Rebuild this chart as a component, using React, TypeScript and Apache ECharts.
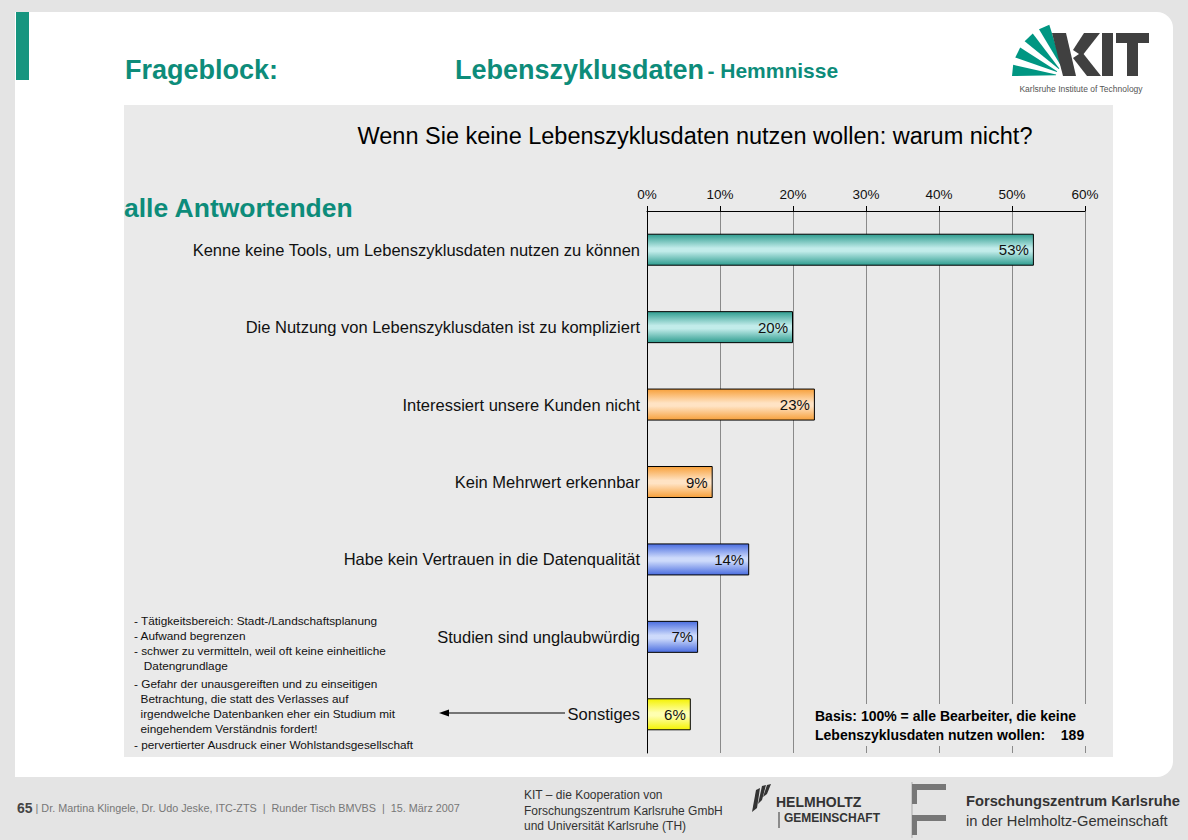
import React, { useEffect, useRef } from "react";
import * as echarts from "echarts";

const categories = [
  "Kenne keine Tools, um Lebenszyklusdaten nutzen zu können",
  "Die Nutzung von Lebenszyklusdaten ist zu kompliziert",
  "Interessiert unsere Kunden nicht",
  "Kein Mehrwert erkennbar",
  "Habe kein Vertrauen in die Datenqualität",
  "Studien sind unglaubwürdig",
  "Sonstiges",
];
const values = [53, 20, 23, 9, 14, 7, 6];
const colorGroups = ["teal", "teal", "orange", "orange", "blue", "blue", "yellow"];
const axisTicks = [0, 10, 20, 30, 40, 50, 60];

const noteLines = [
  "- Tätigkeitsbereich: Stadt-/Landschaftsplanung",
  "- Aufwand begrenzen",
  "- schwer zu vermitteln, weil oft keine einheitliche",
  "   Datengrundlage",
  "- Gefahr der unausgereiften und zu einseitigen",
  "  Betrachtung, die statt des Verlasses auf",
  "  irgendwelche Datenbanken eher ein Studium mit",
  "  eingehendem Verständnis fordert!",
  "- pervertierter Ausdruck einer Wohlstandsgesellschaft",
];
const noteY = [621, 636, 651, 666, 684, 699, 714, 729, 745];

const palette: Record<string, [string, string]> = {
  teal: ["#2f9d90", "#c2ecea"],
  orange: ["#f7a03a", "#ffe3c4"],
  blue: ["#4a6de0", "#cddafb"],
  yellow: ["#f4f200", "#ffffb0"],
};

const FONT = "'Liberation Sans', Arial, Helvetica, sans-serif";
const GREEN = "#0d8c7a";

function grad(key: string) {
  const [e, m] = palette[key];
  return new echarts.graphic.LinearGradient(0, 0, 0, 1, [
    { offset: 0, color: e },
    { offset: 0.45, color: m },
    { offset: 0.55, color: m },
    { offset: 1, color: e },
  ]);
}

function kitRays() {
  const fx = 1066;
  const fy = 76;
  const angles = [6, 26, 46, 66];
  const r1 = 10;
  const r2 = 54;
  return angles.map((a) => {
    const pt = (r: number, deg: number) => {
      const t = (deg * Math.PI) / 180;
      return [fx - r * Math.cos(t), fy - r * Math.sin(t)];
    };
    return {
      type: "polygon",
      z: 20,
      shape: { points: [pt(r1, a - 2), pt(r2, a - 6), pt(r2, a + 6), pt(r1, a + 2)] },
      style: { fill: "#009682" },
    };
  });
}

export default function App() {
  const ref = useRef<HTMLDivElement>(null);
  useEffect(() => {
    if (!ref.current) return;
    const chart = echarts.init(ref.current, undefined, { renderer: "svg" });
    const graphic: any[] = [
      { type: "rect", z: -20, shape: { x: 0, y: 0, width: 1188, height: 840 }, style: { fill: "#e4e4e4" } },
      { type: "rect", z: -19, shape: { x: 15, y: 12, width: 1158, height: 765, r: [0, 16, 16, 0] }, style: { fill: "#ffffff" } },
      { type: "rect", z: -18, shape: { x: 16, y: 12, width: 13, height: 68 }, style: { fill: "#16957f" } },
      { type: "rect", z: -18, shape: { x: 124, y: 105, width: 989, height: 652 }, style: { fill: "#eaeaea" } },
      {
        type: "text", z: 20, x: 125, y: 70,
        style: { text: "Frageblock:", font: `bold 27px ${FONT}`, fill: GREEN, verticalAlign: "middle" },
      },
      {
        type: "text", z: 20, x: 455, y: 70,
        style: {
          text: "{a|Lebenszyklusdaten} {b|- Hemmnisse}",
          verticalAlign: "middle",
          rich: {
            a: { font: `bold 27px ${FONT}`, fill: GREEN },
            b: { font: `bold 21px ${FONT}`, fill: GREEN },
          },
        },
      },
      {
        type: "text", z: 20, x: 695, y: 136,
        style: { text: "Wenn Sie keine Lebenszyklusdaten nutzen wollen: warum nicht?", font: `23.5px ${FONT}`, fill: "#000", align: "center", verticalAlign: "middle" },
      },
      {
        type: "text", z: 20, x: 124, y: 208,
        style: { text: "alle Antwortenden", font: `bold 26.5px ${FONT}`, fill: GREEN, verticalAlign: "middle" },
      },
      ...noteLines.map((t, i) => ({
        type: "text", z: 20, x: 134, y: noteY[i],
        style: { text: t, font: `11.8px ${FONT}`, fill: "#111", verticalAlign: "middle" },
      })),
      { type: "line", z: 20, shape: { x1: 565, y1: 713, x2: 446, y2: 713 }, style: { stroke: "#000", lineWidth: 1 } },
      { type: "polygon", z: 20, shape: { points: [[439, 713], [449, 709.5], [449, 716.5]] }, style: { fill: "#000" } },
      { type: "rect", z: 50, shape: { x: 806, y: 704, width: 282, height: 42 }, style: { fill: "#eaeaea" } },
      {
        type: "text", z: 51, x: 815, y: 716,
        style: { text: "Basis: 100% = alle Bearbeiter, die keine", font: `bold 14px ${FONT}`, fill: "#000", verticalAlign: "middle" },
      },
      {
        type: "text", z: 51, x: 815, y: 735,
        style: { text: "Lebenszyklusdaten nutzen wollen:    189", font: `bold 14px ${FONT}`, fill: "#000", verticalAlign: "middle" },
      },
      // KIT logo
      ...kitRays(),
      { type: "polygon", z: 20, shape: { points: [[1052, 33], [1066, 33], [1076, 76], [1063, 76]] }, style: { fill: "#404040" } },
      { type: "polygon", z: 20, shape: { points: [[1084, 33], [1100, 33], [1082, 56], [1073, 50]] }, style: { fill: "#404040" } },
      { type: "polygon", z: 20, shape: { points: [[1073, 58], [1082, 52], [1101, 76], [1087, 76]] }, style: { fill: "#404040" } },
      { type: "rect", z: 20, shape: { x: 1102, y: 33, width: 11, height: 43 }, style: { fill: "#404040" } },
      { type: "rect", z: 20, shape: { x: 1116, y: 33, width: 33, height: 10 }, style: { fill: "#404040" } },
      { type: "rect", z: 20, shape: { x: 1127, y: 33, width: 11, height: 43 }, style: { fill: "#404040" } },
      {
        type: "text", z: 20, x: 1081, y: 89,
        style: { text: "Karlsruhe Institute of Technology", font: `8.5px ${FONT}`, fill: "#555", align: "center", verticalAlign: "middle" },
      },
      // footer
      {
        type: "text", z: 20, x: 17, y: 808,
        style: {
          text: "{a|65}{b| | Dr. Martina Klingele, Dr. Udo Jeske, ITC-ZTS  |  Runder Tisch BMVBS  |  15. März 2007}",
          verticalAlign: "middle",
          rich: {
            a: { font: `bold 14px ${FONT}`, fill: "#444" },
            b: { font: `10.8px ${FONT}`, fill: "#777" },
          },
        },
      },
      ...["KIT – die Kooperation von", "Forschungszentrum Karlsruhe GmbH", "und Universität Karlsruhe (TH)"].map((t, i) => ({
        type: "text", z: 20, x: 524, y: 795 + i * 15.5,
        style: { text: t, font: `12px ${FONT}`, fill: "#333", verticalAlign: "middle" },
      })),
      // Helmholtz logo
      { type: "polygon", z: 20, shape: { points: [[752, 812], [756, 790], [760, 788], [757, 808]] }, style: { fill: "#333" } },
      { type: "polygon", z: 20, shape: { points: [[758, 804], [762, 786], [766, 785], [762, 800]] }, style: { fill: "#333" } },
      { type: "polygon", z: 20, shape: { points: [[763, 797], [767, 785], [771, 784], [767, 794]] }, style: { fill: "#333" } },
      {
        type: "text", z: 20, x: 776, y: 802,
        style: { text: "HELMHOLTZ", font: `bold 14px ${FONT}`, fill: "#333", verticalAlign: "middle" },
      },
      { type: "line", z: 20, shape: { x1: 779, y1: 812, x2: 779, y2: 828 }, style: { stroke: "#333", lineWidth: 1 } },
      {
        type: "text", z: 20, x: 784, y: 818,
        style: { text: "GEMEINSCHAFT", font: `bold 12px ${FONT}`, fill: "#333", verticalAlign: "middle" },
      },
      // FZK logo
      { type: "line", z: 20, shape: { x1: 912, y1: 782, x2: 912, y2: 838 }, style: { stroke: "#aaa", lineWidth: 1 } },
      { type: "rect", z: 20, shape: { x: 912, y: 784, width: 34, height: 6 }, style: { fill: "#777" } },
      { type: "rect", z: 20, shape: { x: 912, y: 790, width: 5, height: 14 }, style: { fill: "#777" } },
      { type: "rect", z: 20, shape: { x: 912, y: 815, width: 34, height: 6 }, style: { fill: "#777" } },
      { type: "rect", z: 20, shape: { x: 912, y: 821, width: 5, height: 14 }, style: { fill: "#777" } },
      {
        type: "text", z: 20, x: 966, y: 801,
        style: { text: "Forschungszentrum Karlsruhe", font: `bold 14.7px ${FONT}`, fill: "#333", verticalAlign: "middle" },
      },
      {
        type: "text", z: 20, x: 966, y: 821,
        style: { text: "in der Helmholtz-Gemeinschaft", font: `14.7px ${FONT}`, fill: "#333", verticalAlign: "middle" },
      },
    ];

    chart.setOption({
      animation: false,
      textStyle: { fontFamily: FONT },
      graphic,
      grid: { left: 647, right: 103, top: 211, bottom: 87, containLabel: false },
      xAxis: {
        type: "value",
        position: "top",
        min: axisTicks[0],
        max: axisTicks[axisTicks.length - 1],
        interval: 10,
        axisLine: { show: true, lineStyle: { color: "#000", width: 1 } },
        axisTick: { show: true, length: 5, lineStyle: { color: "#000" } },
        axisLabel: { formatter: "{value}%", fontSize: 13.5, color: "#111", margin: 10 },
        splitLine: { show: true, lineStyle: { color: "#8a8a8a", width: 1 } },
      },
      yAxis: {
        type: "category",
        inverse: true,
        data: categories,
        axisLine: { show: true, lineStyle: { color: "#000", width: 1 } },
        axisTick: { show: false },
        axisLabel: { fontSize: 16.5, color: "#111", margin: 7 },
      },
      series: [
        {
          type: "bar",
          barWidth: 32,
          data: values.map((v, i) => ({
            value: v,
            itemStyle: { color: grad(colorGroups[i]), borderColor: "#000", borderWidth: 1 },
          })),
          label: {
            show: true,
            position: "insideRight",
            formatter: "{c}%",
            fontSize: 15,
            color: "#111",
            distance: 5,
          },
        },
      ],
    });
    return () => chart.dispose();
  }, []);
  return <div ref={ref} style={{ position: "absolute", left: 0, top: 0, width: 1188, height: 840 }} />;
}
